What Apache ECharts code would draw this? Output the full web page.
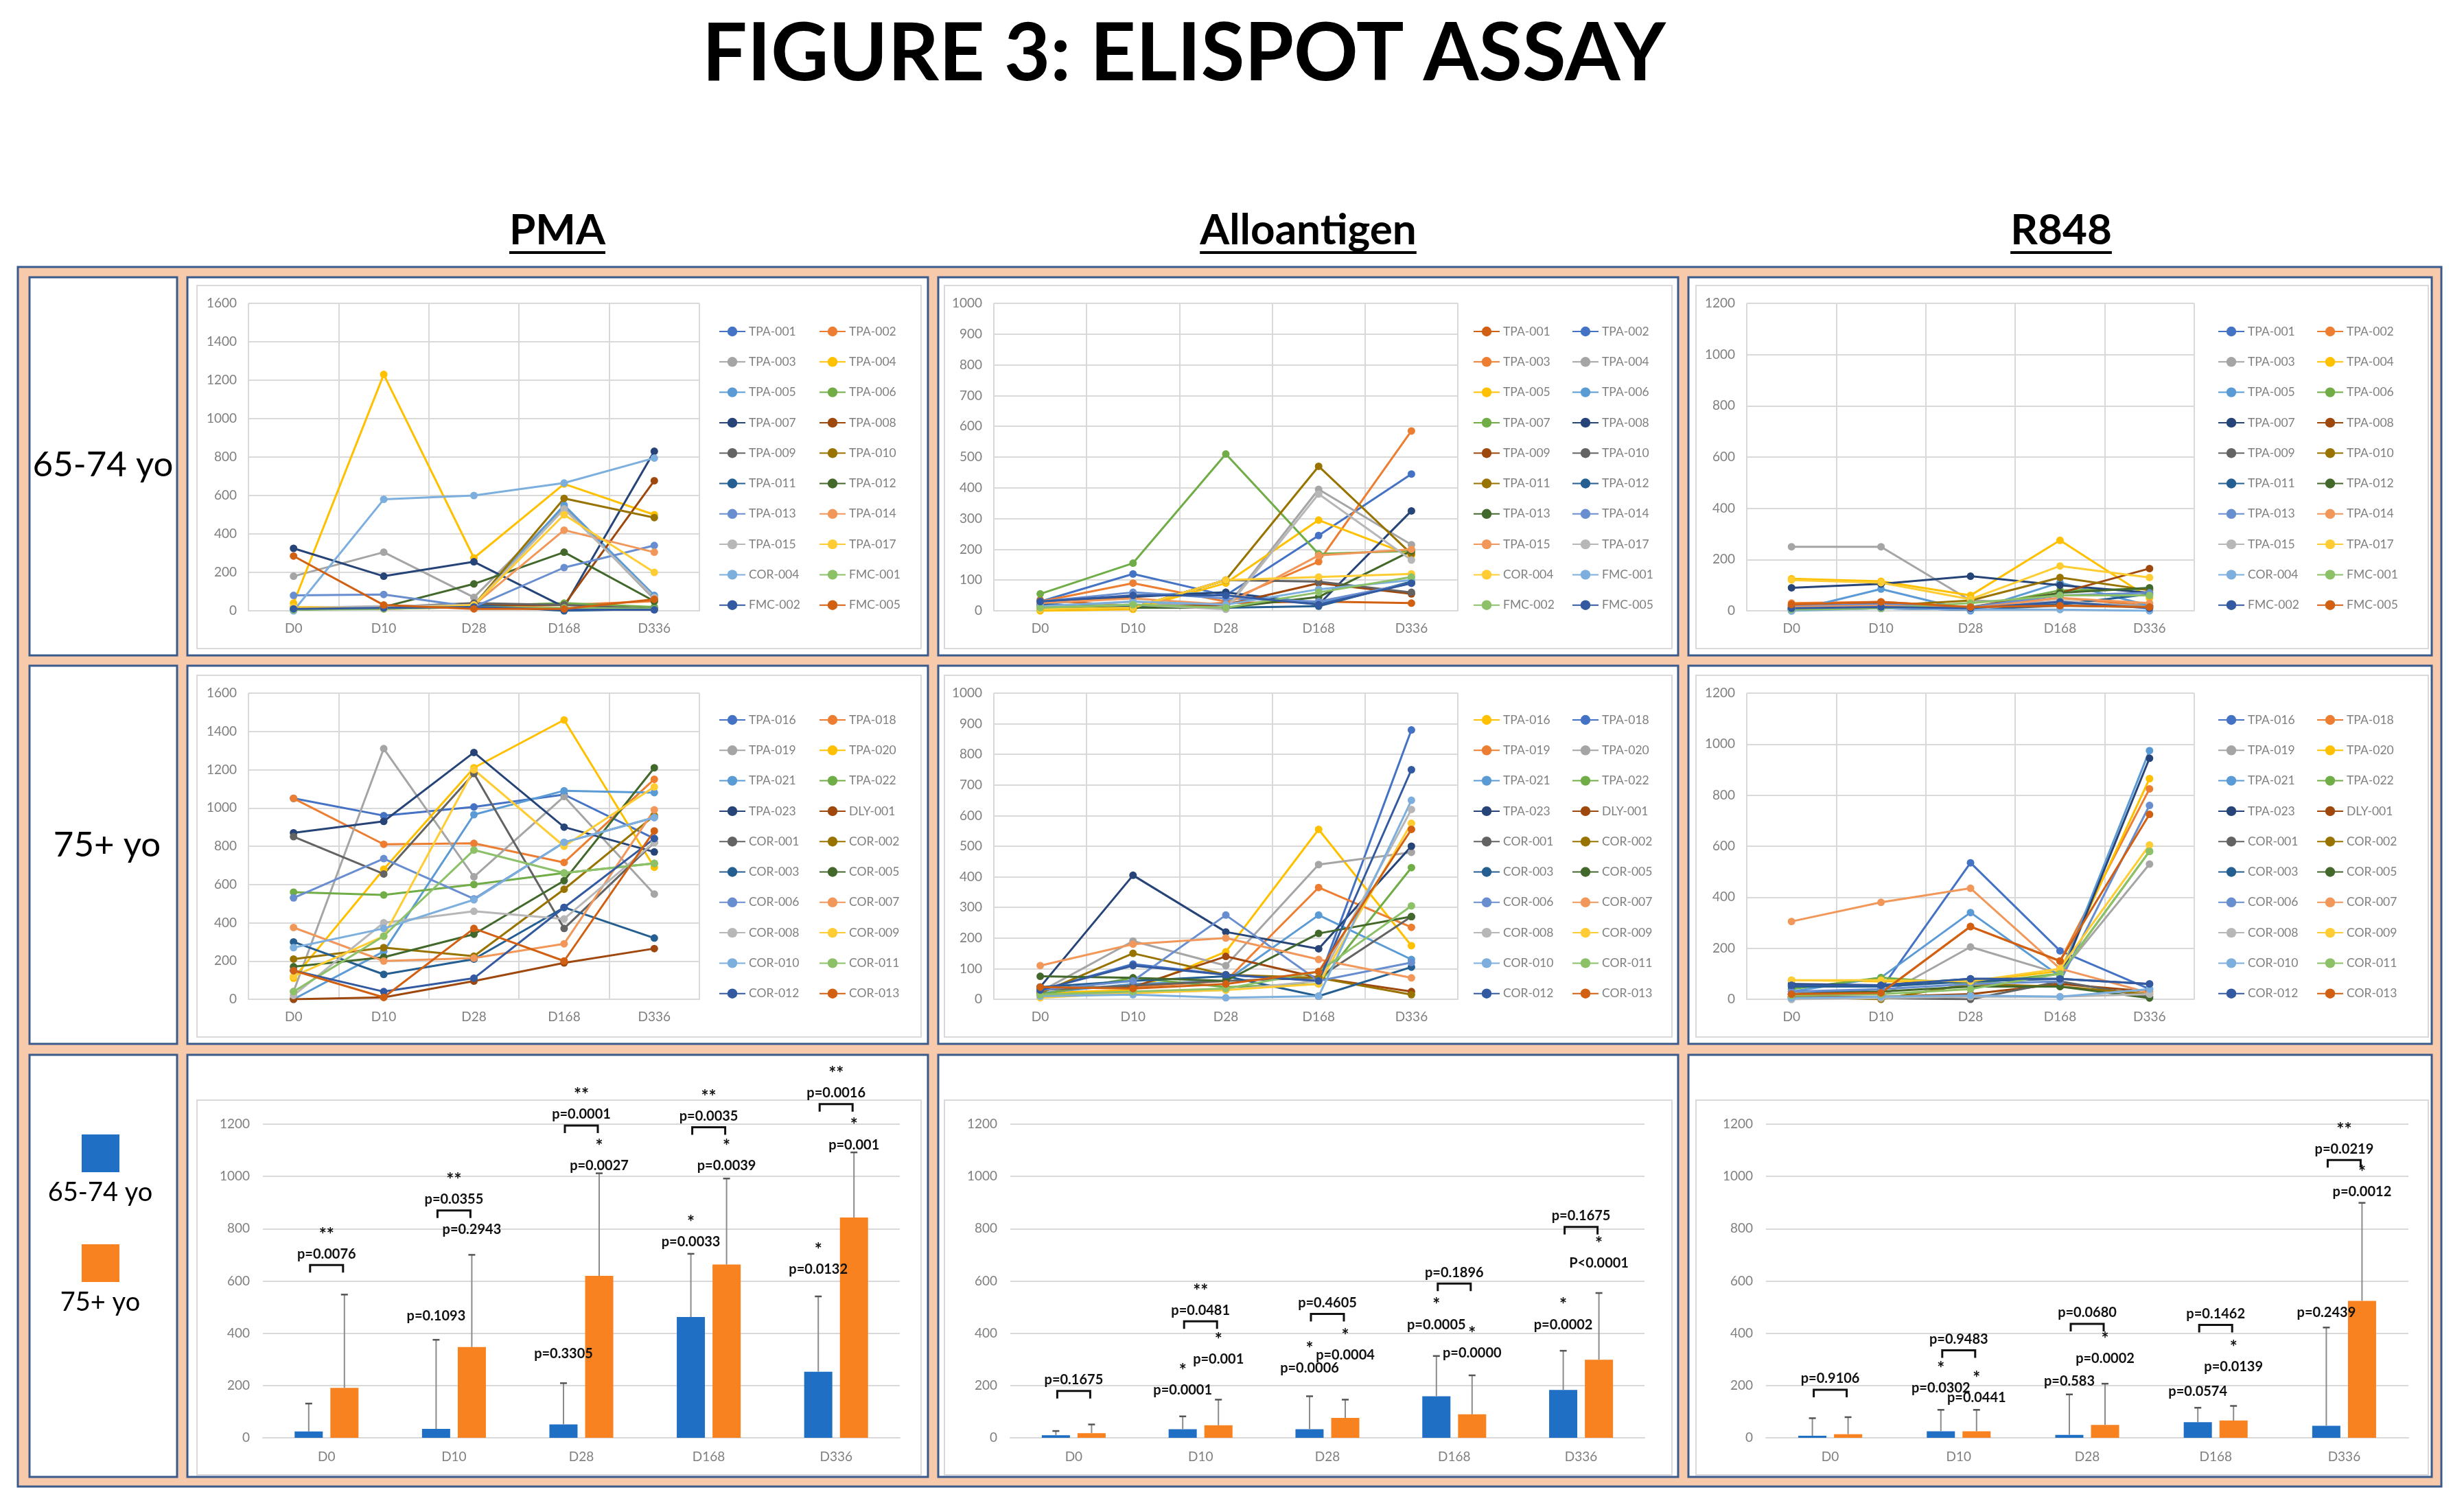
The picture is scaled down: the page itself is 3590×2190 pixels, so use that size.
<!DOCTYPE html>
<html>
<head>
<meta charset="utf-8">
<script src="https://cdn.jsdelivr.net/npm/echarts@6/dist/echarts.min.js"></script>
<style>
  html, body { margin: 0; padding: 0; background: #fff; }
  #chart { width: 3590px; height: 2190px; }
</style>
</head>
<body>
<div id="chart"></div>
<script>
// time points and subject ids
const days = ['D0', 'D10', 'D28', 'D168', 'D336'];
const ids6574 = ['TPA-001', 'TPA-002', 'TPA-003', 'TPA-004', 'TPA-005', 'TPA-006', 'TPA-007', 'TPA-008', 'TPA-009', 'TPA-010',
  'TPA-011', 'TPA-012', 'TPA-013', 'TPA-014', 'TPA-015', 'TPA-017', 'COR-004', 'FMC-001', 'FMC-002', 'FMC-005'];
const ids75 = ['TPA-016', 'TPA-018', 'TPA-019', 'TPA-020', 'TPA-021', 'TPA-022', 'TPA-023', 'DLY-001', 'COR-001', 'COR-002',
  'COR-003', 'COR-005', 'COR-006', 'COR-007', 'COR-008', 'COR-009', 'COR-010', 'COR-011', 'COR-012', 'COR-013'];

// office palette, and the shifted orders used in the alloantigen panels
const office = ['#4472C4', '#ED7D31', '#A5A5A5', '#FFC000', '#5B9BD5', '#70AD47', '#264478', '#9E480E', '#636363', '#997300',
  '#255E91', '#43682B', '#698ED0', '#F1975A', '#B7B7B7', '#FFCD33', '#7CAFDD', '#8CC168', '#335AA1', '#D26012'];
const alloColors6574 = ['#D26012'].concat(office.slice(0, 19));
const alloColors75 = ['#FFC000', '#4472C4', '#ED7D31', '#A5A5A5'].concat(office.slice(4));

// 65-74 yo, one row per subject (D0, D10, D28, D168, D336)
const pma6574 = [
  [10, 20, 20, 10, 10], [15, 10, 20, 30, 50], [180, 305, 70, 540, 60], [40, 1230, 275, 660, 500],
  [10, 20, 30, 550, 80], [5, 15, 25, 40, 20], [325, 180, 255, 20, 830], [10, 20, 30, 30, 677],
  [5, 20, 40, 30, 10], [10, 20, 30, 585, 485], [5, 20, 30, 0, 10], [10, 20, 140, 305, 50],
  [80, 85, 20, 225, 340], [20, 15, 30, 420, 305], [15, 25, 30, 530, 70], [20, 10, 30, 500, 200],
  [0, 580, 600, 665, 795], [5, 10, 20, 15, 10], [10, 15, 20, 5, 5], [285, 30, 10, 10, 60]
];
const allo6574 = [
  [35, 15, 25, 30, 25], [30, 120, 50, 245, 445], [30, 90, 30, 160, 585], [10, 30, 10, 395, 215],
  [0, 5, 90, 295, 180], [20, 50, 60, 25, 90], [55, 155, 510, 185, 195], [25, 45, 60, 20, 325],
  [15, 10, 20, 90, 55], [10, 10, 100, 95, 60], [5, 10, 100, 470, 185], [20, 15, 10, 15, 95],
  [10, 10, 10, 45, 195], [30, 60, 40, 30, 90], [25, 40, 20, 180, 200], [10, 20, 5, 380, 165],
  [5, 10, 100, 110, 120], [15, 30, 20, 70, 100], [10, 20, 10, 60, 110], [30, 50, 50, 20, 90]
];
const r848_6574 = [
  [5, 10, 5, 30, 20], [30, 35, 15, 50, 20], [250, 250, 40, 30, 20], [125, 115, 60, 275, 50],
  [0, 85, 0, 110, 20], [10, 20, 10, 80, 85], [90, 105, 135, 100, 70], [20, 30, 15, 70, 165],
  [10, 10, 5, 20, 15], [15, 20, 40, 130, 80], [5, 10, 5, 25, 65], [10, 15, 10, 70, 90],
  [20, 25, 15, 60, 70], [15, 20, 10, 50, 30], [10, 15, 5, 40, 10], [120, 110, 45, 175, 130],
  [0, 10, 5, 5, 0], [5, 10, 30, 60, 60], [10, 15, 10, 35, 10], [25, 35, 15, 20, 15]
];

// 75+ yo
const pma75 = [
  [1050, 960, 1005, 1070, 840], [1050, 810, 815, 715, 1150], [40, 1310, 640, 1060, 550], [110, 680, 1210, 1460, 690],
  [0, 250, 965, 1090, 1080], [560, 545, 600, 660, 710], [870, 930, 1290, 900, 770], [0, 10, 95, 190, 265],
  [850, 655, 1180, 370, 820], [210, 270, 225, 575, 960], [300, 130, 210, 480, 320], [170, 220, 340, 620, 1210],
  [530, 735, 525, 820, 950], [375, 200, 215, 290, 990], [20, 400, 460, 420, 820], [120, 330, 1200, 800, 1110],
  [270, 370, 520, 820, 950], [40, 330, 780, 660, 710], [150, 40, 110, 480, 840], [150, 10, 370, 200, 880]
];
const allo75 = [
  [20, 30, 155, 555, 175], [30, 115, 80, 60, 880], [35, 40, 60, 365, 235], [25, 190, 110, 440, 480],
  [20, 50, 60, 275, 130], [15, 70, 40, 50, 430], [40, 405, 220, 165, 500], [35, 40, 140, 70, 25],
  [30, 45, 60, 70, 270], [20, 150, 80, 70, 15], [40, 60, 75, 10, 105], [75, 70, 60, 215, 270],
  [30, 60, 275, 60, 120], [110, 180, 200, 130, 70], [10, 20, 30, 60, 620], [5, 20, 30, 50, 575],
  [10, 15, 5, 10, 650], [15, 25, 35, 90, 305], [30, 110, 80, 60, 750], [40, 35, 50, 90, 555]
];
const r848_75 = [
  [20, 40, 535, 190, 40], [20, 25, 285, 150, 825], [0, 10, 205, 100, 530], [75, 70, 70, 110, 865],
  [30, 85, 340, 90, 975], [40, 85, 60, 100, 580], [60, 55, 80, 80, 945], [10, 10, 20, 60, 30],
  [5, 5, 0, 70, 10], [10, 0, 60, 50, 20], [50, 50, 70, 80, 60], [20, 30, 50, 50, 5],
  [30, 40, 60, 70, 760], [305, 380, 435, 120, 25], [0, 5, 10, 10, 20], [75, 75, 70, 120, 605],
  [5, 10, 15, 10, 40], [15, 20, 40, 100, 580], [55, 55, 80, 80, 60], [20, 25, 285, 150, 725]
];

// group means and mean + SD (top of the error bar)
const pmaMean6574 = [24, 34, 51, 462, 253];
const pmaTop6574 = [131, 375, 209, 704, 541];
const pmaMean75 = [191, 347, 620, 663, 843];
const pmaTop75 = [548, 700, 1012, 992, 1092];
const alloMean6574 = [10, 33, 33, 159, 183];
const alloTop6574 = [26, 82, 159, 313, 333];
const alloMean75 = [18, 48, 76, 90, 299];
const alloTop75 = [51, 146, 146, 239, 554];
const r848Mean6574 = [8, 25, 11, 60, 46];
const r848Top6574 = [75, 107, 166, 115, 422];
const r848Mean75 = [14, 25, 49, 66, 524];
const r848Top75 = [79, 107, 207, 122, 899];

// p values over one bar: [day, group (0 = 65-74, 1 = 75+), height, text, stars]
const pmaBarNotes = [
  [1, 0, 466, 'p=0.1093', ''], [1, 1, 797, 'p=0.2943', ''], [2, 0, 322, 'p=0.3305', ''], [2, 1, 1041, 'p=0.0027', '*'],
  [3, 0, 750, 'p=0.0033', '*'], [3, 1, 1041, 'p=0.0039', '*'], [4, 0, 645, 'p=0.0132', '*'], [4, 1, 1121, 'p=0.001', '*']
];
const alloBarNotes = [
  [1, 0, 182, 'p=0.0001', '*'], [1, 1, 301, 'p=0.001', '*'], [2, 0, 267, 'p=0.0006', '*'], [2, 1, 316, 'p=0.0004', '*'],
  [3, 0, 433, 'p=0.0005', '*'], [3, 1, 325, 'p=0.0000', '*'], [4, 0, 433, 'p=0.0002', '*'], [4, 1, 667, 'P<0.0001', '*']
];
const r848BarNotes = [
  [1, 0, 189, 'p=0.0302', '*'], [1, 1, 153, 'p=0.0441', '*'], [2, 0, 217, 'p=0.583', ''], [2, 1, 304, 'p=0.0002', '*'],
  [3, 0, 177, 'p=0.0574', ''], [3, 1, 271, 'p=0.0139', '*'], [4, 0, 480, 'p=0.2439', ''], [4, 1, 940, 'p=0.0012', '*']
];
// p values between the two groups: [day, bracket height, text, stars]
const pmaPairNotes = [
  [0, 661, 'p=0.0076', '**'], [1, 870, 'p=0.0355', '**'], [2, 1195, 'p=0.0001', '**'],
  [3, 1188, 'p=0.0035', '**'], [4, 1277, 'p=0.0016', '**']
];
const alloPairNotes = [
  [0, 179, 'p=0.1675', ''], [1, 446, 'p=0.0481', '**'], [2, 474, 'p=0.4605', ''],
  [3, 590, 'p=0.1896', ''], [4, 807, 'p=0.1675', '']
];
const r848PairNotes = [
  [0, 184, 'p=0.9106', ''], [1, 335, 'p=0.9483', ''], [2, 436, 'p=0.0680', ''],
  [3, 432, 'p=0.1462', ''], [4, 1063, 'p=0.0219', '**']
];

const lineMax = [1600, 1000, 1200];
const lineStep = [200, 100, 200];

// layout
const FONT = 'Lato, "Open Sans", sans-serif';
const BLUE = '#1F6FC5';
const ORANGE = '#F7821F';
const BAR_OFF = 26;
const plotX = [[362, 1019], [1448, 2124], [2545, 3197]];
const barX = [[383, 1311], [1472, 2396], [2573, 3509]];
const rowY = [[442, 890], [1010, 1456], [1638, 2095]];
const legendLeft = [[1042, 1188], [2141, 2285], [3226, 3370]];
const legendTop = [469, 1035];
const colEdges = [[43, 258], [273, 1352], [1367, 2445], [2460, 3543]];
const rowEdges = [[404, 955], [970, 1521], [1537, 2152]];
const chartCols = [[287, 1342], [1376, 2436], [2471, 3538]];
const chartRows = [[416, 945], [984, 1511], [1603, 2149]];

const chart = echarts.init(document.getElementById('chart'));

const grids = [], xAxes = [], yAxes = [], series = [], legends = [];
const axisText = { color: '#7F7F7F', fontSize: 19, fontFamily: FONT };
const gridLine = { lineStyle: { color: '#D9D9D9', width: 2 } };
const plainNum = v => String(v);

// line panels
const linePanels = [
  { key: 'p1', ids: ids6574, colors: office, vals: pma6574 },
  { key: 'a1', ids: ids6574, colors: alloColors6574, vals: allo6574 },
  { key: 'r1', ids: ids6574, colors: office, vals: r848_6574 },
  { key: 'p2', ids: ids75, colors: office, vals: pma75 },
  { key: 'a2', ids: ids75, colors: alloColors75, vals: allo75 },
  { key: 'r2', ids: ids75, colors: office, vals: r848_75 }
];

linePanels.forEach((p, idx) => {
  const row = Math.floor(idx / 3), col = idx % 3;
  grids.push({
    left: plotX[col][0], top: rowY[row][0],
    width: plotX[col][1] - plotX[col][0], height: rowY[row][1] - rowY[row][0]
  });
  xAxes.push({
    type: 'category', gridIndex: idx, data: days, boundaryGap: true,
    axisLine: gridLine, axisTick: { show: false },
    axisLabel: Object.assign({ margin: 16 }, axisText),
    splitLine: Object.assign({ show: true }, gridLine)
  });
  yAxes.push({
    type: 'value', gridIndex: idx, min: 0, max: lineMax[col], interval: lineStep[col],
    axisLine: { show: false }, axisTick: { show: false },
    axisLabel: Object.assign({ margin: 17, formatter: plainNum }, axisText),
    splitLine: gridLine
  });
  p.ids.forEach((id, i) => {
    series.push({
      name: p.key + '|' + id, type: 'line', xAxisIndex: idx, yAxisIndex: idx,
      data: p.vals[i], symbol: 'circle', symbolSize: 11,
      itemStyle: { color: p.colors[i] },
      lineStyle: { width: 3, color: p.colors[i] },
      emphasis: { disabled: true }
    });
  });
  [0, 1].forEach(k => {
    legends.push({
      orient: 'vertical', left: legendLeft[col][k], top: legendTop[row],
      itemWidth: 38, itemHeight: 18, itemGap: 26.3, selectedMode: false,
      data: p.ids.filter((_, i) => i % 2 === k).map(id => p.key + '|' + id),
      formatter: n => n.split('|')[1],
      textStyle: { color: '#808080', fontSize: 17.5, lineHeight: 18, fontFamily: FONT }
    });
  });
});

// bar panels
const barPanels = [
  { m1: pmaMean6574, t1: pmaTop6574, m2: pmaMean75, t2: pmaTop75, bar: pmaBarNotes, pair: pmaPairNotes },
  { m1: alloMean6574, t1: alloTop6574, m2: alloMean75, t2: alloTop75, bar: alloBarNotes, pair: alloPairNotes },
  { m1: r848Mean6574, t1: r848Top6574, m2: r848Mean75, t2: r848Top75, bar: r848BarNotes, pair: r848PairNotes }
];

const noteFont = 'bold 20px ' + FONT;
const starFont = 'bold 26px ' + FONT;
const txt = (text, x, y, font) => ({
  type: 'text',
  style: { text, x, y, font: font || noteFont, fill: '#111', textAlign: 'center', textVerticalAlign: 'middle' }
});

barPanels.forEach((b, col) => {
  const idx = 6 + col;
  grids.push({
    left: barX[col][0], top: rowY[2][0],
    width: barX[col][1] - barX[col][0], height: rowY[2][1] - rowY[2][0]
  });
  xAxes.push({
    type: 'category', gridIndex: idx, data: days,
    axisLine: gridLine, axisTick: { show: false },
    axisLabel: Object.assign({ margin: 18 }, axisText)
  });
  yAxes.push({
    type: 'value', gridIndex: idx, min: 0, max: 1200, interval: 200,
    axisLine: { show: false }, axisTick: { show: false },
    axisLabel: Object.assign({ margin: 19, formatter: plainNum }, axisText),
    splitLine: gridLine
  });
  series.push({
    name: '65-74 yo', type: 'bar', xAxisIndex: idx, yAxisIndex: idx, data: b.m1,
    barWidth: 41, barGap: '27%', itemStyle: { color: BLUE }, emphasis: { disabled: true }
  });
  series.push({
    name: '75+ yo', type: 'bar', xAxisIndex: idx, yAxisIndex: idx, data: b.m2,
    barWidth: 41, barGap: '27%', itemStyle: { color: ORANGE }, emphasis: { disabled: true }
  });

  // error bars
  const errs = [];
  days.forEach((d, i) => {
    errs.push([i, b.m1[i], b.t1[i], 0]);
    errs.push([i, b.m2[i], b.t2[i], 1]);
  });
  series.push({
    type: 'custom', xAxisIndex: idx, yAxisIndex: idx, data: errs, clip: false, z: 3,
    encode: { x: 0, y: [1, 2] },
    renderItem: (params, api) => {
      const side = api.value(3) ? 1 : -1;
      const lo = api.coord([api.value(0), api.value(1)]);
      const hi = api.coord([api.value(0), api.value(2)]);
      const x = lo[0] + side * BAR_OFF;
      return {
        type: 'group', children: [
          { type: 'line', shape: { x1: x, y1: lo[1], x2: x, y2: hi[1] }, style: { stroke: '#8C8C8C', lineWidth: 2 } },
          { type: 'line', shape: { x1: x - 5, y1: hi[1], x2: x + 5, y2: hi[1] }, style: { stroke: '#555', lineWidth: 2.5 } }
        ]
      };
    }
  });

  // p value annotations
  series.push({
    type: 'custom', xAxisIndex: idx, yAxisIndex: idx, clip: false, z: 4,
    data: b.bar.map(n => [n[0], n[2]]),
    renderItem: (params, api) => {
      const n = b.bar[params.dataIndex];
      const c = api.coord([n[0], n[2]]);
      const x = c[0] + (n[1] ? BAR_OFF : -BAR_OFF);
      const kids = [txt(n[3], x, c[1])];
      if (n[4]) kids.push(txt(n[4], x, c[1] - 28, starFont));
      return { type: 'group', children: kids };
    }
  });
  series.push({
    type: 'custom', xAxisIndex: idx, yAxisIndex: idx, clip: false, z: 4,
    data: b.pair.map(n => [n[0], n[1]]),
    renderItem: (params, api) => {
      const n = b.pair[params.dataIndex];
      const c = api.coord([n[0], n[1]]);
      const x1 = c[0] - BAR_OFF + 2, x2 = c[0] + BAR_OFF - 2, y = c[1];
      const kids = [
        { type: 'polyline', shape: { points: [[x1, y + 11], [x1, y], [x2, y], [x2, y + 11]] }, style: { stroke: '#111', lineWidth: 3, fill: null } },
        txt(n[2], c[0], y - 16)
      ];
      if (n[3]) kids.push(txt(n[3], c[0], y - 44, starFont));
      return { type: 'group', children: kids };
    }
  });
});

// table frame, titles and row labels
const frameBlue = '#3A5A8C';
const graphics = [
  { type: 'rect', z: -30, shape: { x: 26, y: 389, width: 3531, height: 1777 }, style: { fill: '#F7CAAC', stroke: frameBlue, lineWidth: 3 } }
];
rowEdges.forEach(r => colEdges.forEach(c => {
  graphics.push({ type: 'rect', z: -29, shape: { x: c[0], y: r[0], width: c[1] - c[0], height: r[1] - r[0] }, style: { fill: '#fff', stroke: frameBlue, lineWidth: 3 } });
}));
chartRows.forEach(r => chartCols.forEach(c => {
  graphics.push({ type: 'rect', z: -28, shape: { x: c[0], y: r[0], width: c[1] - c[0], height: r[1] - r[0] }, style: { fill: '#fff', stroke: '#D9D9D9', lineWidth: 2 } });
}));

const gText = (text, x, y, font, fill) => ({
  type: 'text', z: 10, x, y,
  style: { text, font, fill: fill || '#000', textAlign: 'center', textVerticalAlign: 'middle' }
});
graphics.push(gText('FIGURE 3: ELISPOT ASSAY', 1725, 80, 'bold 116px ' + FONT));

const measure = document.createElement('canvas').getContext('2d');
const headFont = 'bold 62px ' + FONT;
measure.font = headFont;
[['PMA', 812], ['Alloantigen', 1906], ['R848', 3003]].forEach(h => {
  const w = measure.measureText(h[0]).width;
  graphics.push(gText(h[0], h[1], 336, headFont));
  graphics.push({ type: 'rect', z: 10, shape: { x: h[1] - w / 2, y: 366, width: w, height: 4 }, style: { fill: '#000' } });
});

graphics.push(gText('65-74 yo', 150, 678, '51px ' + FONT));
graphics.push(gText('75+ yo', 156, 1232, '51px ' + FONT));
graphics.push({ type: 'rect', z: 10, shape: { x: 119, y: 1653, width: 55, height: 55 }, style: { fill: BLUE } });
graphics.push({ type: 'rect', z: 10, shape: { x: 119, y: 1813, width: 55, height: 55 }, style: { fill: ORANGE } });
graphics.push(gText('65-74 yo', 146, 1738, '38px ' + FONT));
graphics.push(gText('75+ yo', 146, 1898, '38px ' + FONT));

chart.setOption({
  backgroundColor: '#fff',
  animation: false,
  tooltip: { show: false },
  graphic: graphics,
  legend: legends,
  grid: grids,
  xAxis: xAxes,
  yAxis: yAxes,
  series
});
</script>
</body>
</html>
